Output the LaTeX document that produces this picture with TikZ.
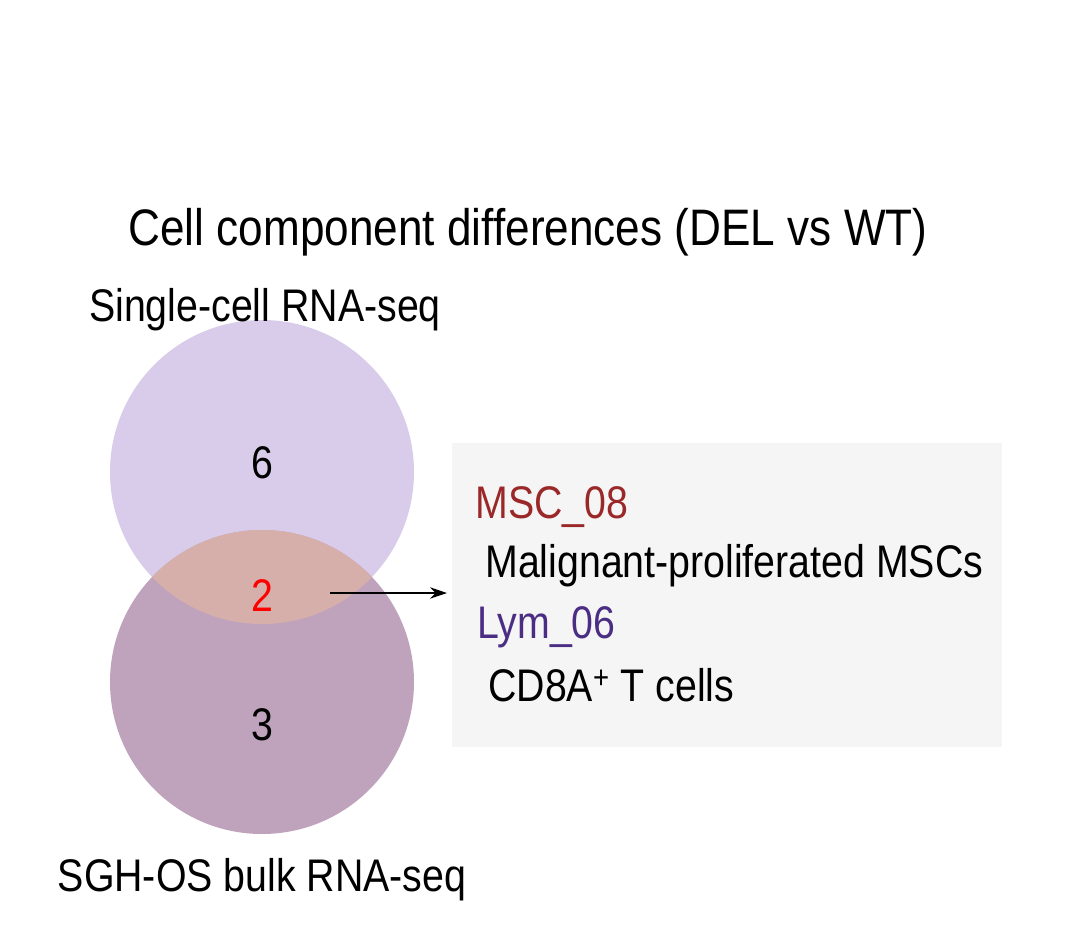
\documentclass[tikz,border=0pt]{standalone}
\usepackage{fontspec}
\usetikzlibrary{arrows.meta}
\setmainfont[FakeStretch=0.86]{Liberation Sans}
\begin{document}
\begin{tikzpicture}[x=0.025cm,y=-0.025cm,
  lbl/.style={inner sep=0pt,font=\fontsize{32.5}{36}\selectfont},
  lft/.style={lbl,anchor=west}]
\useasboundingbox (0,0) rectangle (1067,941);
\definecolor{topc}{HTML}{D8CCEA}
\definecolor{botc}{HTML}{BFA3BD}
\definecolor{ovc}{HTML}{D6AFAB}
\fill[white] (0,0) rectangle (1067,941);
\fill[topc] (262,472) circle (152);
\fill[botc] (262,682) circle (152);
\begin{scope}
\clip (262,472) circle (152);
\fill[ovc] (262,682) circle (152);
\end{scope}
\fill[black!4] (452,443) rectangle (1002,747);
\node[lbl,font=\fontsize{36.5}{40}\selectfont] (title) at (528,232) {Cell component differences (DEL vs WT)};
\node[lbl] (s1) at (265,310) {Single-cell RNA-seq};
\node[lbl] (s2) at (262,880) {SGH-OS bulk RNA-seq};
\node[lbl] (n6) at (262,463) {6};
\node[lbl,text=red] (n2) at (262,596) {2};
\node[lbl] (n3) at (262,725) {3};
\coordinate (a1) at (330,593);
\coordinate (a2) at (447,593);
\draw[-{Stealth[length=12pt,width=8pt]},line width=1.2pt] (a1) -- (a2);
\node[lft,text={rgb,255:red,155;green,40;blue,40}] (m) at (475,507) {MSC\_08};
\node[lft] (mm) at (485,566) {Malignant-proliferated MSCs};
\node[lft,text={rgb,255:red,75;green,46;blue,131}] (l) at (477,627) {Lym\_06};
\node[lft] (ll) at (488,685) {CD8A\textsuperscript{+} T cells};
\end{tikzpicture}
\end{document}
